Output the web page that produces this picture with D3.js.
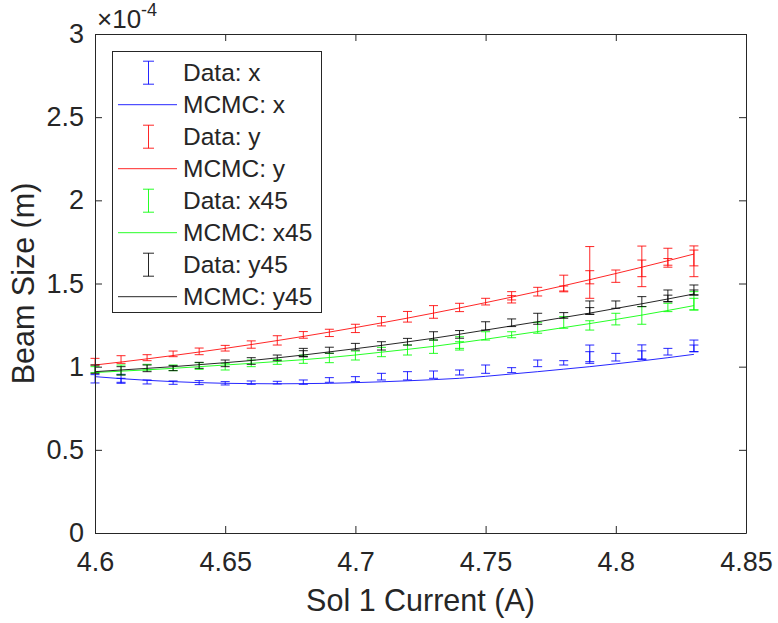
<!DOCTYPE html>
<html><head><meta charset="utf-8">
<script src="https://cdn.jsdelivr.net/npm/d3@7"></script>
<style>body{margin:0;background:#fff}svg{display:block}text{font-family:"Liberation Sans",Arial,sans-serif;fill:#262626}</style>
</head><body><svg id="c" width="778" height="623"></svg>
<script>
// x values (A)
const current = [4.60,4.61,4.62,4.63,4.64,4.65,4.66,4.67,4.68,4.69,4.70,4.71,4.72,4.73,4.74,4.75,4.76,4.77,4.78,4.79,4.80,4.81,4.82,4.83];
// Beam size values in units of 1e-4 m
const dataX    = [0.927,0.93,0.908,0.904,0.904,0.90,0.904,0.904,0.907,0.92,0.925,0.94,0.945,0.952,0.965,0.985,0.979,1.02,1.023,1.075,1.057,1.088,1.09,1.125];
const errX     = [0.025,0.024,0.012,0.01,0.012,0.01,0.01,0.008,0.013,0.014,0.015,0.02,0.025,0.022,0.015,0.025,0.015,0.02,0.013,0.055,0.023,0.043,0.02,0.035];
const extraX   = [[4.61,0.915,0.015],[4.79,1.06,0.03],[4.81,1.07,0.025],[4.83,1.11,0.02]];
const mcmcX    = [0.94,0.928,0.918,0.91,0.904,0.90,0.898,0.897,0.898,0.90,0.904,0.909,0.915,0.922,0.93,0.942,0.956,0.97,0.985,1.00,1.017,1.035,1.054,1.074];

const dataY    = [1.03,1.043,1.054,1.077,1.092,1.111,1.133,1.158,1.191,1.203,1.23,1.273,1.30,1.329,1.356,1.391,1.426,1.451,1.50,1.61,1.544,1.633,1.655,1.666];
const errY     = [0.02,0.023,0.018,0.017,0.02,0.017,0.022,0.028,0.02,0.022,0.025,0.028,0.032,0.038,0.025,0.02,0.025,0.026,0.05,0.112,0.037,0.092,0.057,0.06];
const extraY   = [[4.76,1.405,0.022],[4.78,1.47,0.015],[4.79,1.494,0.083],[4.81,1.561,0.08],[4.82,1.63,0.02],[4.83,1.621,0.08]];
const mcmcY    = [1.01,1.028,1.047,1.067,1.088,1.11,1.133,1.157,1.182,1.208,1.235,1.263,1.292,1.322,1.353,1.385,1.418,1.452,1.487,1.523,1.56,1.598,1.637,1.677];

const dataX45  = [0.982,0.98,0.997,0.993,1.004,1.0,1.02,1.029,1.045,1.052,1.067,1.088,1.10,1.12,1.14,1.185,1.192,1.234,1.266,1.248,1.286,1.308,1.356,1.396];
const errX45   = [0.018,0.03,0.017,0.017,0.02,0.02,0.02,0.015,0.025,0.028,0.027,0.028,0.03,0.04,0.04,0.025,0.018,0.033,0.035,0.028,0.035,0.053,0.025,0.055];
const extraX45 = [[4.83,1.376,0.035],[4.74,1.13,0.02]];
const mcmcX45  = [0.965,0.973,0.981,0.99,1.0,1.01,1.02,1.031,1.042,1.055,1.07,1.087,1.104,1.122,1.143,1.165,1.188,1.211,1.235,1.259,1.284,1.31,1.338,1.367];

const dataY45  = [0.985,0.975,0.99,0.991,1.008,1.02,1.034,1.053,1.085,1.099,1.12,1.125,1.15,1.185,1.194,1.245,1.264,1.288,1.308,1.355,1.373,1.391,1.426,1.461];
const errY45   = [0.025,0.025,0.02,0.015,0.018,0.02,0.02,0.017,0.025,0.018,0.02,0.025,0.02,0.025,0.023,0.025,0.023,0.033,0.017,0.04,0.022,0.03,0.035,0.03];
const extraY45 = [[4.68,1.078,0.018],[4.79,1.335,0.02],[4.82,1.41,0.02],[4.83,1.446,0.015]];
const mcmcY45  = [0.97,0.98,0.99,1.0,1.012,1.024,1.037,1.053,1.07,1.089,1.108,1.128,1.149,1.171,1.195,1.22,1.245,1.27,1.296,1.322,1.35,1.378,1.407,1.437];

const xTicks = [4.6,4.65,4.7,4.75,4.8,4.85];
const xTickLabels = ["4.6","4.65","4.7","4.75","4.8","4.85"];
const yTicks = [0,0.5,1,1.5,2,2.5,3];
const yTickLabels = ["0","0.5","1","1.5","2","2.5","3"];
const legendLabels = ["Data: x","MCMC: x","Data: y","MCMC: y","Data: x45","MCMC: x45","Data: y45","MCMC: y45"];
const colors = ["#0000ff","#ff0000","#00ff00","#000000"];

const series = [
  {data:dataX, err:errX, extra:extraX, mcmc:mcmcX},
  {data:dataY, err:errY, extra:extraY, mcmc:mcmcY},
  {data:dataX45, err:errX45, extra:extraX45, mcmc:mcmcX45},
  {data:dataY45, err:errY45, extra:extraY45, mcmc:mcmcY45}
];

const L=95, R=746, T=34, B=533;
const svg = d3.select("#c");
const x = d3.scaleLinear().domain([4.6,4.85]).range([L,R]);
const y = d3.scaleLinear().domain([0,3]).range([B,T]);
const axisCol = "#262626";

svg.append("rect").attr("x",L).attr("y",T).attr("width",R-L).attr("height",B-T).attr("fill","#fff");

const plot = svg.append("g");
const cap = 4.5;
series.forEach((s,i)=>{
  const col = colors[i];
  const bars = current.map((c,j)=>[c,s.data[j],s.err[j]]).concat(s.extra);
  const g = plot.append("g").attr("stroke",col).attr("stroke-width",1).attr("fill","none").attr("stroke-opacity",0.85);
  bars.forEach(b=>{
    const cx = x(b[0]), y1 = y(b[1]-b[2]), y2 = y(b[1]+b[2]);
    g.append("line").attr("x1",cx).attr("x2",cx).attr("y1",y1).attr("y2",y2);
    g.append("line").attr("x1",cx-cap).attr("x2",cx+cap).attr("y1",y1).attr("y2",y1);
    g.append("line").attr("x1",cx-cap).attr("x2",cx+cap).attr("y1",y2).attr("y2",y2);
  });
  plot.append("path").datum(current.map((c,j)=>[c,s.mcmc[j]]))
    .attr("d", d3.line().x(d=>x(d[0])).y(d=>y(d[1])))
    .attr("stroke",col).attr("stroke-width",1).attr("fill","none").attr("stroke-opacity",0.85);
});

function styleAxis(g){ g.selectAll("path,line").attr("stroke",axisCol); }
const fs = 27;
const gx = svg.append("g").attr("transform",`translate(0,${B})`)
  .call(d3.axisBottom(x).tickValues(xTicks).tickFormat((d,i)=>xTickLabels[i]).tickSizeInner(-7).tickSizeOuter(0).tickPadding(19));
gx.selectAll("text").attr("font-size",fs).attr("fill",axisCol).attr("font-family","Liberation Sans, Arial, sans-serif");
styleAxis(gx);
const gxt = svg.append("g").attr("transform",`translate(0,${T})`)
  .call(d3.axisTop(x).tickValues(xTicks).tickFormat("").tickSizeInner(-7).tickSizeOuter(0));
styleAxis(gxt);
const gy = svg.append("g").attr("transform",`translate(${L},0)`)
  .call(d3.axisLeft(y).tickValues(yTicks).tickFormat((d,i)=>yTickLabels[i]).tickSizeInner(-7).tickSizeOuter(0).tickPadding(11));
gy.selectAll("text").attr("font-size",fs).attr("fill",axisCol).attr("font-family","Liberation Sans, Arial, sans-serif");
styleAxis(gy);
const gyr = svg.append("g").attr("transform",`translate(${R},0)`)
  .call(d3.axisRight(y).tickValues(yTicks).tickFormat("").tickSizeInner(-7).tickSizeOuter(0));
styleAxis(gyr);

// exponent label
const ex = svg.append("text").attr("x",97).attr("y",28).attr("font-size",26);
ex.append("tspan").text("\u00d710");
ex.append("tspan").attr("font-size",18).attr("dy",-12).text("-4");

// axis titles
svg.append("text").attr("x",(L+R)/2).attr("y",611).attr("text-anchor","middle").attr("font-size",30.5).text("Sol 1 Current (A)");
svg.append("text").attr("transform",`translate(34,${(T+B)/2}) rotate(-90)`).attr("text-anchor","middle").attr("font-size",30.5).text("Beam Size (m)");

// legend
const lg = svg.append("g");
lg.append("rect").attr("x",112.5).attr("y",51.5).attr("width",209).attr("height",261).attr("fill","#fff").attr("stroke",axisCol).attr("stroke-width",1);
legendLabels.forEach((lab,k)=>{
  const cy = 72.7 + k*32;
  const col = colors[Math.floor(k/2)];
  if(k%2===0){
    const h = 11.5;
    lg.append("line").attr("x1",148.5).attr("x2",148.5).attr("y1",cy-h).attr("y2",cy+h).attr("stroke",col).attr("stroke-opacity",0.85);
    lg.append("line").attr("x1",143).attr("x2",154).attr("y1",cy-h).attr("y2",cy-h).attr("stroke",col).attr("stroke-opacity",0.85);
    lg.append("line").attr("x1",143).attr("x2",154).attr("y1",cy+h).attr("y2",cy+h).attr("stroke",col).attr("stroke-opacity",0.85);
  } else {
    lg.append("line").attr("x1",118).attr("x2",177).attr("y1",cy).attr("y2",cy).attr("stroke",col).attr("stroke-opacity",0.85);
  }
  lg.append("text").attr("x",183).attr("y",cy).attr("dy","0.35em").attr("font-size",24.5).text(lab);
});
</script></body></html>
